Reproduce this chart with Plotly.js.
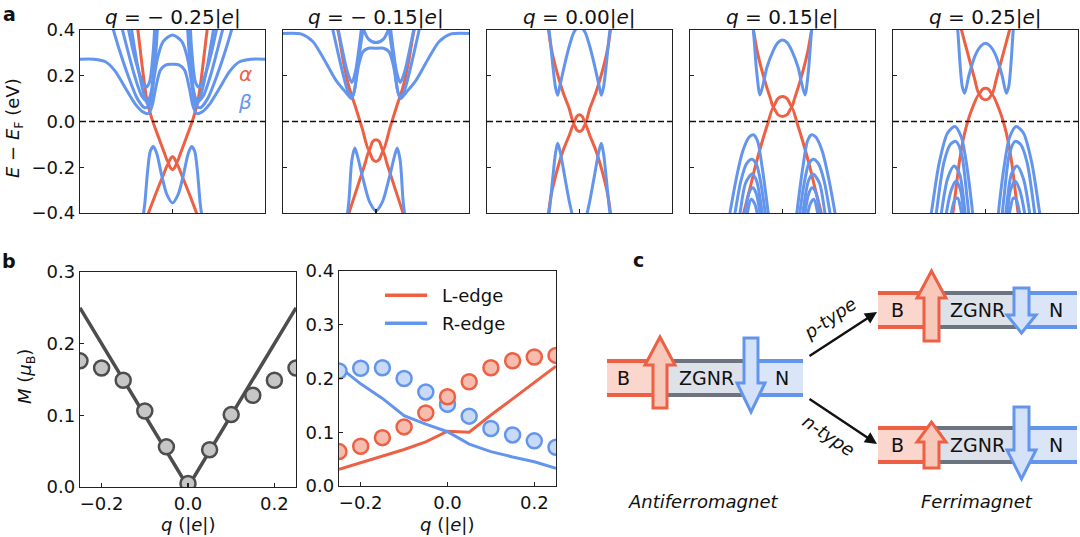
<!DOCTYPE html>
<html><head><meta charset="utf-8">
<script src="https://cdn.plot.ly/plotly-3.0.1.min.js"></script>
<style>html,body{margin:0;padding:0;background:#fff}#chart{width:1080px;height:537px}</style>
</head><body><div id="chart"></div>
<script>
const FONT = '"DejaVu Sans", "Liberation Sans", sans-serif';
const RED = '#EE6044', BLUE = '#6495ED';

// ---------- Panel a: band structures, each band = [k, E] ----------
const chargeLabels = ['− 0.25', '− 0.15', '0.00', '0.15', '0.25'];
const eTicks = [-0.4, -0.2, 0, 0.2, 0.4];
const eTickText = ['−0.4', '−0.2', '0.0', '0.2', '0.4'];

const alpha_qm25 = [
  [[-0.38,-0.33,-0.28,-0.225,-0.15,-0.09,-0.045,-0.022,0,0.022,0.045,0.09,0.15,0.225,0.28,0.33,0.38],
   [0.42,0.25,0.10,0.015,-0.07,-0.135,-0.18,-0.162,-0.153,-0.162,-0.18,-0.135,-0.07,0.015,0.10,0.25,0.42]],
  [[-0.29,-0.26,-0.18,-0.1,-0.045,-0.022,0,0.022,0.045,0.1,0.18,0.26,0.29],
   [-0.43,-0.4,-0.315,-0.235,-0.184,-0.203,-0.211,-0.203,-0.184,-0.235,-0.315,-0.4,-0.43]]
];
const beta_qm25 = [
  [[-0.33,-0.3,-0.27,-0.24,-0.207,-0.17,-0.12,-0.06,0,0.06,0.12,0.17,0.207,0.24,0.27,0.3,0.33],
   [-0.45,-0.36,-0.22,-0.13,-0.109,-0.14,-0.23,-0.32,-0.356,-0.32,-0.23,-0.14,-0.109,-0.13,-0.22,-0.36,-0.45]],
  [[-1,-0.85,-0.72,-0.62,-0.5,-0.4,-0.32,-0.26,-0.22,-0.18,-0.13,-0.07,0,0.07,0.13,0.18,0.22,0.26,0.32,0.4,0.5,0.62,0.72,0.85,1],
   [0.272,0.272,0.26,0.22,0.14,0.075,0.042,0.035,0.07,0.15,0.225,0.248,0.25,0.248,0.225,0.15,0.07,0.035,0.042,0.075,0.14,0.22,0.26,0.272,0.272]],
  [[-0.45,-0.38,-0.31,-0.26,-0.22,-0.16,-0.1,0,0.1,0.16,0.22,0.26,0.31,0.38,0.45],
   [0.42,0.25,0.12,0.07,0.14,0.28,0.35,0.378,0.35,0.28,0.14,0.07,0.12,0.25,0.42]],
  [[-0.66,-0.58,-0.48,-0.38,-0.3,-0.25,-0.21,-0.18,-0.16],[0.43,0.32,0.2,0.1,0.06,0.07,0.17,0.3,0.43]],
  [[0.66,0.58,0.48,0.38,0.3,0.25,0.21,0.18,0.16],[0.43,0.32,0.2,0.1,0.06,0.07,0.17,0.3,0.43]],
  [[-0.56,-0.49,-0.41,-0.33,-0.27,-0.23,-0.2,-0.17],[0.43,0.32,0.2,0.11,0.09,0.13,0.25,0.43]],
  [[0.56,0.49,0.41,0.33,0.27,0.23,0.2,0.17],[0.43,0.32,0.2,0.11,0.09,0.13,0.25,0.43]],
  [[-0.49,-0.42,-0.35,-0.29,-0.25,-0.21,-0.19],[0.43,0.3,0.2,0.15,0.17,0.3,0.43]],
  [[0.49,0.42,0.35,0.29,0.25,0.21,0.19],[0.43,0.3,0.2,0.15,0.17,0.3,0.43]]
];

const alpha_qm15 = [
  [[-0.44,-0.4,-0.35,-0.29,-0.228,-0.15,-0.075,-0.037,0,0.037,0.075,0.15,0.228,0.29,0.35,0.4,0.44],
   [0.45,0.38,0.26,0.15,0.073,-0.028,-0.128,-0.088,-0.08,-0.088,-0.128,-0.028,0.073,0.15,0.26,0.38,0.45]],
  [[-0.31,-0.29,-0.2,-0.12,-0.075,-0.037,0,0.037,0.075,0.12,0.2,0.29,0.31],
   [-0.43,-0.4,-0.287,-0.187,-0.13,-0.165,-0.175,-0.165,-0.13,-0.187,-0.287,-0.4,-0.43]]
];
const beta_qm15 = [
  [[-0.32,-0.29,-0.26,-0.228,-0.2,-0.14,-0.07,0,0.07,0.14,0.2,0.228,0.26,0.29,0.32],
   [-0.45,-0.34,-0.17,-0.116,-0.15,-0.25,-0.35,-0.39,-0.35,-0.25,-0.15,-0.116,-0.17,-0.34,-0.45]],
  [[-1,-0.8,-0.68,-0.57,-0.43,-0.32,-0.265,-0.23,-0.19,-0.14,-0.08,0,0.08,0.14,0.19,0.23,0.265,0.32,0.43,0.57,0.68,0.8,1],
   [0.385,0.382,0.35,0.28,0.18,0.125,0.1,0.14,0.24,0.305,0.32,0.32,0.32,0.305,0.24,0.14,0.1,0.125,0.18,0.28,0.35,0.382,0.385]],
  [[-0.48,-0.42,-0.35,-0.29,-0.25,-0.21,-0.17,-0.13],[0.43,0.32,0.2,0.12,0.11,0.2,0.32,0.43]],
  [[0.48,0.42,0.35,0.29,0.25,0.21,0.17,0.13],[0.43,0.32,0.2,0.12,0.11,0.2,0.32,0.43]],
  [[-0.42,-0.37,-0.31,-0.26,-0.22,-0.18,-0.15],[0.43,0.33,0.22,0.17,0.22,0.33,0.43]],
  [[0.42,0.37,0.31,0.26,0.22,0.18,0.15],[0.43,0.33,0.22,0.17,0.22,0.33,0.43]],
  [[-0.16,-0.08,0,0.08,0.16],[0.43,0.36,0.345,0.36,0.43]]
];

const alpha_q0 = [
  [[-0.35,-0.31,-0.26,-0.18,-0.11,-0.063,-0.03,0,0.03,0.063,0.11,0.18,0.26,0.31,0.35],
   [0.45,0.33,0.24,0.13,0.055,-0.007,0.022,0.029,0.022,-0.007,0.055,0.13,0.24,0.33,0.45]],
  [[-0.35,-0.31,-0.26,-0.18,-0.11,-0.063,-0.03,0,0.03,0.063,0.11,0.18,0.26,0.31,0.35],
   [-0.45,-0.33,-0.24,-0.13,-0.06,-0.012,-0.037,-0.044,-0.037,-0.012,-0.06,-0.13,-0.24,-0.33,-0.45]]
];
const beta_q0 = [
  [[-0.36,-0.33,-0.29,-0.26,-0.236,-0.21,-0.16,-0.11,-0.06,0,0.06,0.11,0.16,0.21,0.236,0.26,0.29,0.33,0.36],
   [0.45,0.4,0.25,0.15,0.115,0.16,0.25,0.33,0.39,0.42,0.39,0.33,0.25,0.16,0.115,0.15,0.25,0.4,0.45]],
  [[-0.36,-0.33,-0.29,-0.26,-0.236,-0.21,-0.16,-0.11,-0.06,0,0.06,0.11,0.16,0.21,0.236,0.26,0.29,0.33,0.36],
   [-0.45,-0.4,-0.25,-0.14,-0.095,-0.13,-0.24,-0.35,-0.43,-0.46,-0.43,-0.35,-0.24,-0.13,-0.095,-0.14,-0.25,-0.4,-0.45]]
];

const alpha_qp15 = [
  [[-0.34,-0.315,-0.27,-0.2,-0.13,-0.1,-0.05,0,0.05,0.1,0.13,0.2,0.27,0.315,0.34],
   [0.45,0.4,0.3,0.19,0.1,0.065,0.1,0.109,0.1,0.065,0.1,0.19,0.3,0.4,0.45]],
  [[-0.46,-0.42,-0.35,-0.29,-0.225,-0.16,-0.1,-0.05,0,0.05,0.1,0.16,0.225,0.29,0.35,0.42,0.46],
   [-0.47,-0.4,-0.29,-0.19,-0.095,-0.01,0.06,0.03,0.022,0.03,0.06,-0.01,-0.095,-0.19,-0.29,-0.4,-0.47]]
];
const beta_qp15 = [
  [[-0.34,-0.315,-0.28,-0.243,-0.2,-0.17,-0.1,-0.05,0,0.05,0.1,0.17,0.2,0.243,0.28,0.315,0.34],
   [0.48,0.4,0.22,0.116,0.18,0.235,0.31,0.345,0.356,0.345,0.31,0.235,0.18,0.116,0.22,0.4,0.48]],
  [[-0.6,-0.568,-0.5,-0.43,-0.36,-0.315,-0.27,-0.22,-0.17,-0.14],[-0.48,-0.4,-0.25,-0.13,-0.068,-0.058,-0.085,-0.2,-0.35,-0.45]],
  [[0.6,0.568,0.5,0.43,0.36,0.315,0.27,0.22,0.17,0.14],[-0.48,-0.4,-0.25,-0.13,-0.068,-0.058,-0.085,-0.2,-0.35,-0.45]],
  [[-0.55,-0.514,-0.45,-0.39,-0.33,-0.28,-0.23,-0.18,-0.16],[-0.48,-0.4,-0.26,-0.185,-0.165,-0.19,-0.28,-0.42,-0.48]],
  [[0.55,0.514,0.45,0.39,0.33,0.28,0.23,0.18,0.16],[-0.48,-0.4,-0.26,-0.185,-0.165,-0.19,-0.28,-0.42,-0.48]],
  [[-0.49,-0.459,-0.4,-0.33,-0.28,-0.23,-0.2],[-0.48,-0.4,-0.27,-0.23,-0.26,-0.37,-0.46]],
  [[0.49,0.459,0.4,0.33,0.28,0.23,0.2],[-0.48,-0.4,-0.27,-0.23,-0.26,-0.37,-0.46]],
  [[-0.44,-0.405,-0.36,-0.32,-0.28,-0.24,-0.22],[-0.48,-0.4,-0.31,-0.29,-0.32,-0.41,-0.47]],
  [[0.44,0.405,0.36,0.32,0.28,0.24,0.22],[-0.48,-0.4,-0.31,-0.29,-0.32,-0.41,-0.47]],
  [[-0.41,-0.38,-0.34,-0.3,-0.26,-0.245],[-0.47,-0.4,-0.34,-0.36,-0.43,-0.47]],
  [[0.41,0.38,0.34,0.3,0.26,0.245],[-0.47,-0.4,-0.34,-0.36,-0.43,-0.47]]
];

const alpha_qp25 = [
  [[-0.29,-0.26,-0.2,-0.12,-0.07,-0.035,0,0.035,0.07,0.12,0.2,0.26,0.29],
   [0.45,0.4,0.31,0.19,0.12,0.14,0.145,0.14,0.12,0.19,0.31,0.4,0.45]],
  [[-0.4,-0.36,-0.33,-0.28,-0.225,-0.15,-0.07,-0.035,0,0.035,0.07,0.15,0.225,0.28,0.33,0.36,0.4],
   [-0.5,-0.42,-0.33,-0.17,-0.05,0.05,0.118,0.1,0.095,0.1,0.118,0.05,-0.05,-0.17,-0.33,-0.42,-0.5]]
];
const beta_qp25 = [
  [[-0.32,-0.3,-0.275,-0.25,-0.225,-0.18,-0.11,-0.05,0,0.05,0.11,0.18,0.225,0.25,0.275,0.3,0.32],
   [0.48,0.4,0.25,0.15,0.124,0.2,0.29,0.33,0.342,0.33,0.29,0.2,0.124,0.15,0.25,0.4,0.48]],
  [[-0.62,-0.586,-0.5,-0.41,-0.33,-0.26,-0.2,-0.15,-0.13],[-0.48,-0.4,-0.18,-0.05,-0.022,-0.07,-0.2,-0.36,-0.44]],
  [[0.62,0.586,0.5,0.41,0.33,0.26,0.2,0.15,0.13],[-0.48,-0.4,-0.18,-0.05,-0.022,-0.07,-0.2,-0.36,-0.44]],
  [[-0.56,-0.532,-0.45,-0.38,-0.32,-0.26,-0.2,-0.17],[-0.48,-0.4,-0.18,-0.1,-0.087,-0.14,-0.33,-0.45]],
  [[0.56,0.532,0.45,0.38,0.32,0.26,0.2,0.17],[-0.48,-0.4,-0.18,-0.1,-0.087,-0.14,-0.33,-0.45]],
  [[-0.5,-0.477,-0.41,-0.34,-0.28,-0.22,-0.2],[-0.48,-0.4,-0.25,-0.195,-0.23,-0.4,-0.46]],
  [[0.5,0.477,0.41,0.34,0.28,0.22,0.2],[-0.48,-0.4,-0.25,-0.195,-0.23,-0.4,-0.46]],
  [[-0.45,-0.423,-0.37,-0.32,-0.27,-0.23,-0.21],[-0.48,-0.4,-0.3,-0.26,-0.3,-0.42,-0.47]],
  [[0.45,0.423,0.37,0.32,0.27,0.23,0.21],[-0.48,-0.4,-0.3,-0.26,-0.3,-0.42,-0.47]],
  [[-0.4,-0.369,-0.33,-0.3,-0.26,-0.24],[-0.48,-0.4,-0.34,-0.335,-0.4,-0.46]],
  [[0.4,0.369,0.33,0.3,0.26,0.24],[-0.48,-0.4,-0.34,-0.335,-0.4,-0.46]]
];

const alphaPanels = [alpha_qm25, alpha_qm15, alpha_q0, alpha_qp15, alpha_qp25];
const betaPanels  = [beta_qm25, beta_qm15, beta_q0, beta_qp15, beta_qp25];

// ---------- Panel b ----------
const qVals   = [-0.25,-0.2,-0.15,-0.1,-0.05,0,0.05,0.1,0.15,0.2,0.25];
const M_total = [0.176,0.166,0.149,0.106,0.056,0.005,0.052,0.101,0.128,0.149,0.166];
const qLin    = [-0.25, 0, 0.25];
const M_lin   = [0.25, 0, 0.25];
const mL_dots = [0.064,0.074,0.09,0.11,0.136,0.166,0.194,0.22,0.233,0.24,0.243];
const mR_dots = [0.214,0.219,0.22,0.2,0.175,0.152,0.13,0.107,0.095,0.084,0.072];
const mL_line = [0.031,0.043,0.055,0.068,0.082,0.102,0.1,0.132,0.162,0.193,0.223];
const mR_line = [0.222,0.19,0.163,0.131,0.115,0.101,0.078,0.064,0.054,0.045,0.033];
const legendNames = ['L-edge', 'R-edge'];

// ---------- layout helpers ----------
const W = 1080, H = 537;
const px = v => v / W;
const py = v => (H - v) / H;
const aX = [[80,265],[283,469],[487,672],[690,875],[893,1078]];
const aY = [py(213), py(30)];

const axBase = {showgrid:false, zeroline:false, showline:true, mirror:true, linecolor:'#222', linewidth:1.3,
  ticks:'inside', ticklen:4, tickwidth:1.3, tickcolor:'#222',
  tickfont:{family:FONT, size:18, color:'#111'}, fixedrange:true};

const traces = [];
const layout = {width:W, height:H, margin:{l:0,r:0,t:0,b:0,pad:0}, autosize:false,
  paper_bgcolor:'#fff', plot_bgcolor:'#fff', showlegend:false, font:{family:FONT, color:'#111'},
  shapes:[], annotations:[]};

function ann(o) {
  layout.annotations.push(Object.assign({xref:'paper', yref:'paper', xanchor:'center', yanchor:'middle', showarrow:false}, o));
}
function idOf(i){ return i === 1 ? '' : String(i); }

for (let p = 0; p < 5; p++) {
  const n = p + 1, id = idOf(n);
  layout['xaxis' + id] = Object.assign({}, axBase, {domain:[px(aX[p][0]), px(aX[p][1])], anchor:'y' + id,
    range:[-1, 1], tickvals:[0], showticklabels:false});
  layout['yaxis' + id] = Object.assign({}, axBase, {domain:aY, anchor:'x' + id, range:[-0.4, 0.4],
    tickvals:eTicks, ticktext:eTickText, showticklabels:p === 0});
  alphaPanels[p].forEach(b => traces.push({type:'scatter', mode:'lines', x:b[0], y:b[1], xaxis:'x'+id, yaxis:'y'+id,
    line:{color:RED, width:3, shape:'spline', smoothing:0.8}, hoverinfo:'skip'}));
  betaPanels[p].forEach(b => traces.push({type:'scatter', mode:'lines', x:b[0], y:b[1], xaxis:'x'+id, yaxis:'y'+id,
    line:{color:BLUE, width:3, shape:'spline', smoothing:0.8}, hoverinfo:'skip'}));
  layout.shapes.push({type:'line', xref:'x'+id+' domain', x0:0, x1:1, yref:'y'+id, y0:0, y1:0,
    line:{color:'#111', width:1.5, dash:'6px,3px'}, layer:'above'});
  ann({x:px((aX[p][0]+aX[p][1])/2), y:py(17), text:'<i>q</i> = ' + chargeLabels[p] + '|<i>e</i>|',
    font:{family:FONT, size:20, color:'#111'}});
}
// alpha / beta labels
ann({x:px(245), y:py(74), text:'<i>α</i>', font:{family:FONT, size:20, color:RED}});
ann({x:px(245), y:py(102), text:'<i>β</i>', font:{family:FONT, size:20, color:BLUE}});
// y title a
ann({x:px(14), y:py(128), textangle:-90, text:'<i>E</i> − <i>E</i><sub>F</sub> (eV)', font:{family:FONT, size:18, color:'#111'}});

// panel b axes
layout.xaxis6 = Object.assign({}, axBase, {domain:[px(80), px(296)], anchor:'y6', range:[-0.25, 0.25],
  tickvals:[-0.2, 0, 0.2], ticktext:['−0.2', '0.0', '0.2']});
layout.yaxis6 = Object.assign({}, axBase, {domain:[py(487), py(272)], anchor:'x6', range:[0, 0.3],
  tickvals:[0, 0.1, 0.2, 0.3], ticktext:['0.0', '0.1', '0.2', '0.3']});
layout.xaxis7 = Object.assign({}, axBase, {domain:[px(339), px(556)], anchor:'y7', range:[-0.25, 0.25],
  tickvals:[-0.2, 0, 0.2], ticktext:['−0.2', '0.0', '0.2']});
layout.yaxis7 = Object.assign({}, axBase, {domain:[py(486), py(271)], anchor:'x7', range:[0, 0.4],
  tickvals:[0, 0.1, 0.2, 0.3, 0.4], ticktext:['0.0', '0.1', '0.2', '0.3', '0.4']});

traces.push({type:'scatter', mode:'lines', x:qLin, y:M_lin, xaxis:'x6', yaxis:'y6', line:{color:'#4d4d4d', width:3.5}, hoverinfo:'skip'});
traces.push({type:'scatter', mode:'markers', x:qVals, y:M_total, xaxis:'x6', yaxis:'y6',
  marker:{size:15, color:'#c6c6c6', line:{color:'#4d4d4d', width:2.5}}, hoverinfo:'skip'});

traces.push({type:'scatter', mode:'lines', x:qVals, y:mL_line, xaxis:'x7', yaxis:'y7', line:{color:RED, width:3}, hoverinfo:'skip'});
traces.push({type:'scatter', mode:'lines', x:qVals, y:mR_line, xaxis:'x7', yaxis:'y7', line:{color:BLUE, width:3}, hoverinfo:'skip'});
traces.push({type:'scatter', mode:'markers', x:qVals, y:mR_dots, xaxis:'x7', yaxis:'y7',
  marker:{size:15, color:'#C8DAF6', line:{color:BLUE, width:2.5}}, hoverinfo:'skip'});
traces.push({type:'scatter', mode:'markers', x:qVals, y:mL_dots, xaxis:'x7', yaxis:'y7',
  marker:{size:15, color:'#F6BDAE', line:{color:RED, width:2.5}}, hoverinfo:'skip'});

// manual legend in b right
[[RED, 0.355], [BLUE, 0.303]].forEach((it, i) => {
  layout.shapes.push({type:'line', xref:'x7', yref:'y7', x0:-0.144, x1:-0.047, y0:it[1], y1:it[1], line:{color:it[0], width:3.5}});
  ann({xref:'x7', yref:'y7', x:-0.018, y:it[1], xanchor:'left', text:legendNames[i], font:{family:FONT, size:18, color:'#111'}});
});

// b titles
ann({x:px(26), y:py(377), textangle:-90, text:'<i>M</i> (<i>μ</i><sub>B</sub>)', font:{family:FONT, size:18, color:'#111'}});
ann({x:px(188), y:py(524), text:'<i>q</i> (|<i>e</i>|)', font:{family:FONT, size:18, color:'#111'}});
ann({x:px(447), y:py(524), text:'<i>q</i> (|<i>e</i>|)', font:{family:FONT, size:18, color:'#111'}});

// panel letters
[['a', 9, 14], ['b', 9, 261], ['c', 638, 260]].forEach(l => ann({x:px(l[1]), y:py(l[2]), borderpad:0,
  text:'<b>' + l[0] + '</b>', font:{family:FONT, size:19, color:'#111'}}));

// ---------- Panel c: schematic (hidden axis in pixel units) ----------
layout.xaxis8 = {domain:[px(590), 1], range:[590, 1080], visible:false, anchor:'y8', fixedrange:true};
layout.yaxis8 = {domain:[0, py(250)], range:[537, 250], visible:false, anchor:'x8', fixedrange:true};

const C = {redLine:RED, redFill:'#FAD6CC', redArrow:'#F8C8BA', grayLine:'#6B7480', grayFill:'#DDE2EA',
  blueLine:BLUE, blueFill:'#DAE5F8', blueArrow:'#D3E2F9'};

function arrowPath(a) {
  const cx = (a.hx0 + a.hx1) / 2;
  return `M${a.sx0},${a.base} L${a.sx0},${a.hb} L${a.hx0},${a.hb} L${cx},${a.tip} L${a.hx1},${a.hb} L${a.sx1},${a.hb} L${a.sx1},${a.base} Z`;
}
function ribbon(r) {
  const S = layout.shapes, ref = {xref:'x8', yref:'y8'};
  const segs = [[r.x[0], r.x[1], C.redFill, C.redLine], [r.x[1], r.x[2], C.grayFill, C.grayLine], [r.x[2], r.x[3], C.blueFill, C.blueLine]];
  segs.forEach(s => S.push(Object.assign({type:'rect', x0:s[0], x1:s[1], y0:r.y0, y1:r.y1, fillcolor:s[2], line:{width:0}}, ref)));
  segs.forEach(s => [r.y0, r.y1].forEach(y => S.push(Object.assign({type:'line', x0:s[0], x1:s[1], y0:y, y1:y, line:{color:s[3], width:4}}, ref))));
  S.push(Object.assign({type:'path', path:arrowPath(r.up), fillcolor:C.redArrow, line:{color:C.redLine, width:3}}, ref));
  S.push(Object.assign({type:'path', path:arrowPath(r.dn), fillcolor:C.blueArrow, line:{color:C.blueLine, width:3}}, ref));
  const ty = (r.y0 + r.y1) / 2;
  [['B', r.tx[0]], ['ZGNR', r.tx[1]], ['N', r.tx[2]]].forEach(t => ann(Object.assign({x:t[1], y:ty,
    text:t[0], font:{family:FONT, size:19, color:'#111'}}, ref)));
}
ribbon({y0:361, y1:395, x:[607, 660, 751, 803], tx:[623, 706, 782],
  up:{sx0:653, sx1:667, base:408, hb:365, hx0:645, hx1:675, tip:337},
  dn:{sx0:744, sx1:758, base:338, hb:383, hx0:737, hx1:765, tip:412}});
ribbon({y0:293, y1:327, x:[878, 931, 1021, 1077], tx:[897, 977, 1056],
  up:{sx0:924, sx1:939, base:341, hb:298, hx0:917, hx1:946, tip:271},
  dn:{sx0:1014, sx1:1029, base:288, hb:315, hx0:1007, hx1:1036, tip:333}});
ribbon({y0:428, y1:462, x:[878, 931, 1021, 1077], tx:[897, 977, 1056],
  up:{sx0:924, sx1:939, base:468, hb:442, hx0:917, hx1:946, tip:422},
  dn:{sx0:1014, sx1:1029, base:407, hb:450, hx0:1007, hx1:1036, tip:479}});

// black doping arrows
[[877, 312, 808, 357], [877, 444, 808, 398]].forEach(a => layout.annotations.push({xref:'x8', yref:'y8', axref:'x8', ayref:'y8',
  x:a[0], y:a[1], ax:a[2], ay:a[3], showarrow:true, arrowhead:2, arrowsize:1, arrowwidth:2.4, arrowcolor:'#111', text:''}));
ann({xref:'x8', yref:'y8', x:829, y:318, textangle:-34, text:'<i>p-type</i>', font:{family:FONT, size:18, color:'#111'}});
ann({xref:'x8', yref:'y8', x:829, y:435, textangle:34, text:'<i>n-type</i>', font:{family:FONT, size:18, color:'#111'}});
ann({xref:'x8', yref:'y8', x:703, y:501, text:'<i>Antiferromagnet</i>', font:{family:FONT, size:18, color:'#111'}});
ann({xref:'x8', yref:'y8', x:977, y:501, text:'<i>Ferrimagnet</i>', font:{family:FONT, size:18, color:'#111'}});

Plotly.newPlot('chart', traces, layout, {staticPlot:true, displayModeBar:false});
</script></body></html>
